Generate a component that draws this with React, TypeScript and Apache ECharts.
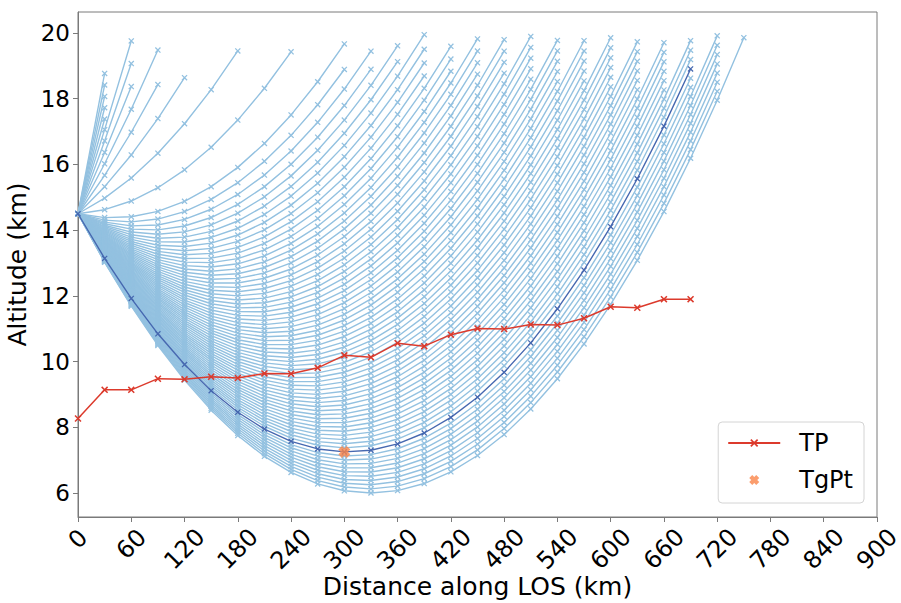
import React, { useEffect, useRef } from "react";
import * as echarts from "echarts";

// ---- geometry constants ----
const EARTH_RADIUS_KM = 6371;
const OBSERVER_ALTITUDE_KM = 14.5;
const ALTITUDE_CEILING_KM = 20;

// sample points along each line of sight (km)
const losDistances = [
  0, 30, 60, 90, 120, 150, 180, 210, 240, 270, 300, 330, 360, 390, 420, 450,
  480, 510, 540, 570, 600, 630, 660, 690, 720, 750,
];

// upward-looking rays: elevation angles (deg)
const upwardElevationsDeg = [0.1, 0.77, 1.44, 2.1, 2.77, 3.43, 4.1, 4.76, 5.38, 6.04, 6.7, 7.37, 8.05];

// downward-looking rays: tangent altitudes (km)
const tangentAltitudes = [
  14.375, 14.25, 14.125, 14.0, 13.875, 13.75, 13.625, 13.5, 13.375, 13.25, 13.125, 13.0,
  12.875, 12.75, 12.625, 12.5, 12.375, 12.25, 12.125, 12.0, 11.875, 11.75, 11.625, 11.5,
  11.375, 11.25, 11.125, 11.0, 10.875, 10.75, 10.625, 10.5, 10.375, 10.25, 10.125, 10.0,
  9.875, 9.75, 9.625, 9.5, 9.375, 9.25, 9.125, 9.0, 8.875, 8.75, 8.625, 8.5, 8.375, 8.25,
  8.125, 8.0, 7.875, 7.75, 7.625, 7.5, 7.375, 7.25, 7.125, 7.0, 6.875, 6.75, 6.625, 6.5,
  6.375, 6.25, 6.125, 6.0,
];

// highlighted ray (tangent altitude, km)
const highlightedTangentAltitude = 7.25;

// TP series
const tpDistances = [
  0, 30, 60, 90, 120, 150, 180, 210, 240, 270, 300, 330, 360, 390, 420, 450, 480, 510,
  540, 570, 600, 630, 660, 690,
];
const tpAltitudes = [
  8.27, 9.14, 9.14, 9.48, 9.46, 9.54, 9.5, 9.64, 9.63, 9.81, 10.19, 10.13, 10.56, 10.47,
  10.82, 11.01, 10.99, 11.13, 11.11, 11.32, 11.67, 11.64, 11.9, 11.9,
];

// TgPt
const tgPtDistance = [300];
const tgPtAltitude = [7.25];

// tick labels
const yTickValues = [6, 8, 10, 12, 14, 16, 18, 20];
const xTickOneDigit = [0];
const xTickTwoDigit = [60];
const xTickThreeDigit = [120, 180, 240, 300, 360, 420, 480, 540, 600, 660, 720, 780, 840, 900];

const FONT = "DejaVu Sans";
const LIGHT = "#93c1e0";
const DARK = "#4668b0";
const RED = "#dc3a2c";
const ORANGE = "#fa8548";
const SPINE = "#7a7a7a";

const X_MARK = "path://M0,1.5L1.5,0L10,8.5L8.5,10ZM8.5,0L10,1.5L1.5,10L0,8.5Z";
const BIG_X = "path://M3,0L5,2L7,0L10,3L8,5L10,7L7,10L5,8L3,10L0,7L2,5L0,3Z";

function rayPoints(sinElev: number): number[][] {
  const r0 = EARTH_RADIUS_KM + OBSERVER_ALTITUDE_KM;
  const pts: number[][] = [];
  for (const s of losDistances) {
    const h = Math.sqrt(r0 * r0 + s * s + 2 * r0 * s * sinElev) - EARTH_RADIUS_KM;
    if (h > ALTITUDE_CEILING_KM) break;
    pts.push([s, h]);
  }
  return pts;
}

function sinFromTangent(ht: number): number {
  const c = (EARTH_RADIUS_KM + ht) / (EARTH_RADIUS_KM + OBSERVER_ALTITUDE_KM);
  return -Math.sqrt(1 - c * c);
}

function labelAxis(values: number[], margin: number, main: boolean) {
  return {
    type: "value",
    min: 0,
    max: 900,
    interval: 60,
    position: "bottom",
    gridIndex: 0,
    name: main ? "Distance along LOS (km)" : "",
    nameLocation: "middle",
    nameGap: 57,
    nameTextStyle: { fontFamily: FONT, fontSize: 25, color: "#000" },
    axisLine: { show: main, onZero: false, lineStyle: { color: SPINE, width: 1 } },
    axisTick: { show: main, length: 5, lineStyle: { color: SPINE } },
    splitLine: { show: false },
    axisLabel: {
      customValues: values,
      rotate: 45,
      align: "center",
      verticalAlign: "middle",
      margin,
      color: "#000",
      fontFamily: FONT,
      fontSize: 24,
    },
  };
}

function buildOption() {
  const series: any[] = [];
  const lightRay = (pts: number[][]) => ({
    type: "line",
    data: pts,
    symbol: X_MARK,
    symbolSize: 6,
    showAllSymbol: true,
    silent: true,
    lineStyle: { color: LIGHT, width: 1.4 },
    itemStyle: { color: LIGHT },
    z: 2,
  });
  upwardElevationsDeg.forEach((e) => series.push(lightRay(rayPoints(Math.sin((e * Math.PI) / 180)))));
  tangentAltitudes
    .filter((t) => t !== highlightedTangentAltitude)
    .forEach((t) => series.push(lightRay(rayPoints(sinFromTangent(t)))));

  series.push({
    type: "line",
    data: rayPoints(sinFromTangent(highlightedTangentAltitude)),
    symbol: X_MARK,
    symbolSize: 6,
    showAllSymbol: true,
    silent: true,
    lineStyle: { color: DARK, width: 1.4 },
    itemStyle: { color: DARK },
    z: 3,
  });

  series.push({
    name: "TP",
    type: "line",
    data: tpDistances.map((d, i) => [d, tpAltitudes[i]]),
    symbol: X_MARK,
    symbolSize: 7,
    showAllSymbol: true,
    silent: true,
    lineStyle: { color: RED, width: 1.5 },
    itemStyle: { color: RED },
    z: 4,
  });

  series.push({
    name: "TgPt",
    type: "scatter",
    data: tgPtDistance.map((d, i) => [d, tgPtAltitude[i]]),
    symbol: BIG_X,
    symbolSize: 12,
    symbolKeepAspect: true,
    silent: true,
    itemStyle: { color: ORANGE },
    z: 5,
  });

  return {
    animation: false,
    backgroundColor: "#ffffff",
    textStyle: { fontFamily: FONT },
    grid: {
      left: 78,
      right: 24,
      top: 12,
      bottom: 86,
      show: true,
      borderColor: SPINE,
      borderWidth: 1,
      backgroundColor: "transparent",
      containLabel: false,
      outerBoundsMode: "none",
    },
    legend: {
      data: [{ name: "TP" }, { name: "TgPt" }],
      orient: "vertical",
      right: 37,
      bottom: 100,
      padding: [7, 11, 9, 9],
      itemGap: 9,
      itemWidth: 52,
      itemHeight: 10,
      borderColor: "#d4d4d4",
      borderWidth: 1,
      borderRadius: 4,
      backgroundColor: "rgba(255,255,255,0.8)",
      selectedMode: false,
      textStyle: {
        fontFamily: FONT,
        fontSize: 24,
        lineHeight: 28,
        color: "#000",
        padding: [0, 0, 0, 14],
      },
    },
    xAxis: [
      labelAxis(xTickOneDigit, 22, true),
      labelAxis(xTickTwoDigit, 27, false),
      labelAxis(xTickThreeDigit, 32, false),
    ],
    yAxis: {
      type: "value",
      min: 5.27,
      max: 20.64,
      name: "Altitude (km)",
      nameLocation: "middle",
      nameGap: 28,
      nameTextStyle: { fontFamily: FONT, fontSize: 25, color: "#000" },
      axisLine: { show: true, onZero: false, lineStyle: { color: SPINE, width: 1 } },
      axisTick: { show: true, length: 5, lineStyle: { color: SPINE }, customValues: yTickValues },
      splitLine: { show: false },
      axisLabel: {
        customValues: yTickValues,
        margin: 8,
        color: "#000",
        fontFamily: FONT,
        fontSize: 23,
      },
    },
    series,
  };
}

export default function App() {
  const ref = useRef<HTMLDivElement>(null);
  useEffect(() => {
    if (!ref.current) return;
    const chart = echarts.init(ref.current, null, { renderer: "svg", width: 901, height: 603 });
    chart.setOption(buildOption() as any);
    return () => chart.dispose();
  }, []);
  return (
    <div
      ref={ref}
      style={{ position: "fixed", left: 0, top: 0, width: 901, height: 603, background: "#fff" }}
    />
  );
}
